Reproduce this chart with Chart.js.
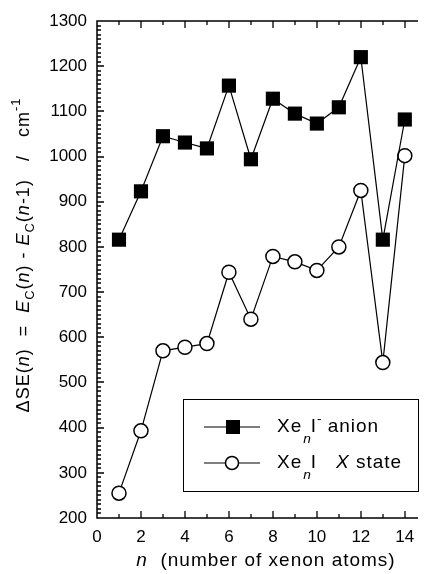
<!DOCTYPE html>
<html>
<head>
<meta charset="utf-8">
<script src="https://cdn.jsdelivr.net/npm/chart.js@4.4.1/dist/chart.umd.min.js"></script>
<style>
  body { margin: 0; background: #fff; }
  canvas { display: block; }
</style>
</head>
<body>
<canvas id="chart" width="428" height="574"></canvas>
<script>
// Cluster size n and stabilisation energy increments (cm-1)
const nValues = [1, 2, 3, 4, 5, 6, 7, 8, 9, 10, 11, 12, 13, 14];
const anionValues = [816, 923, 1045, 1031, 1018, 1157, 994, 1128, 1095, 1073, 1109, 1220, 816, 1082];
const xStateValues = [255, 393, 570, 578, 586, 744, 640, 779, 767, 748, 800, 925, 544, 1002];

// Axis tick labels
const xTicks = [0, 2, 4, 6, 8, 10, 12, 14];
const yTicks = [200, 300, 400, 500, 600, 700, 800, 900, 1000, 1100, 1200, 1300];

const family = '"Liberation Sans", Arial, Helvetica, sans-serif';

// Draw a run of text pieces (italic / subscript / superscript) starting at x
function drawRuns(ctx, runs, x, y, size, measureOnly) {
    let cx = x;
    runs.forEach(function (r) {
        const s = (r.sub || r.sup) ? size * 0.72 : size;
        ctx.font = (r.italic ? 'italic ' : '') + s + 'px ' + family;
        const dy = r.sub ? size * (r.low || 0.38) : (r.sup ? -size * 0.42 : 0);
        if (!measureOnly) ctx.fillText(r.text, cx, y + dy);
        cx += ctx.measureText(r.text).width + (r.gap || 0);
    });
    return cx - x;
}

const yTitleRuns = [
    { text: '\u0394SE(' }, { text: 'n', italic: true }, { text: ')  =  ' },
    { text: 'E', italic: true }, { text: 'C', sub: true }, { text: '(' },
    { text: 'n', italic: true }, { text: ') - ' },
    { text: 'E', italic: true }, { text: 'C', sub: true }, { text: '(' },
    { text: 'n', italic: true }, { text: '-1)   /   cm' }, { text: '-1', sup: true }
];

const xTitleRuns = [
    { text: 'n', italic: true }, { text: '  (number of xenon atoms)' }
];

// Frame, inward ticks, axis titles and the boxed legend
const decorations = {
    id: 'decorations',
    afterDatasetsDraw(chart) {
        const ctx = chart.ctx;
        const area = chart.chartArea;
        const xs = chart.scales.x;
        const ys = chart.scales.y;
        ctx.save();
        ctx.strokeStyle = '#000';
        ctx.fillStyle = '#000';
        ctx.lineWidth = 1.5;

        // frame: left, bottom, top
        ctx.beginPath();
        ctx.moveTo(area.right, area.top);
        ctx.lineTo(area.left, area.top);
        ctx.lineTo(area.left, area.bottom);
        ctx.lineTo(area.right, area.bottom);
        ctx.stroke();

        // x ticks on bottom and top
        ctx.lineWidth = 1.3;
        ctx.beginPath();
        for (let v = 1; v <= 14; v++) {
            const px = Math.round(xs.getPixelForValue(v));
            const len = v % 2 === 0 ? 7 : 4;
            ctx.moveTo(px, area.bottom);
            ctx.lineTo(px, area.bottom - len);
            ctx.moveTo(px, area.top);
            ctx.lineTo(px, area.top + len);
        }
        // y ticks on the left, minor every 10
        for (let v = 210; v < 1300; v += 10) {
            const py = Math.round(ys.getPixelForValue(v));
            const len = v % 100 === 0 ? 7 : 4;
            ctx.moveTo(area.left, py);
            ctx.lineTo(area.left + len, py);
        }
        ctx.stroke();

        ctx.letterSpacing = '1px';

        // y axis title, rotated
        ctx.save();
        ctx.translate(24, 255);
        ctx.rotate(-Math.PI / 2);
        ctx.textBaseline = 'middle';
        ctx.textAlign = 'left';
        const yw = drawRuns(ctx, yTitleRuns, 0, 0, 18, true);
        drawRuns(ctx, yTitleRuns, -yw / 2, 0, 18);
        ctx.restore();

        // x axis title
        ctx.textBaseline = 'alphabetic';
        ctx.textAlign = 'left';
        const xw = drawRuns(ctx, xTitleRuns, 0, 0, 19, true);
        drawRuns(ctx, xTitleRuns, 266 - xw / 2, 566, 19);

        // legend box
        ctx.fillStyle = '#fff';
        ctx.fillRect(183, 399, 235, 92);
        ctx.lineWidth = 1;
        ctx.strokeRect(183.5, 399.5, 235, 92);
        ctx.fillStyle = '#000';

        const rows = [
            { y: 427, square: true, runs: [{ text: 'Xe', gap: 1 }, { text: 'n', italic: true, sub: true, low: 0.62, gap: -1 }, { text: 'I' }, { text: '-', sup: true, gap: 5 }, { text: 'anion' }] },
            { y: 463, square: false, runs: [{ text: 'Xe', gap: 1 }, { text: 'n', italic: true, sub: true, low: 0.62, gap: -1 }, { text: 'I   ' }, { text: 'X', italic: true }, { text: ' state' }] }
        ];
        rows.forEach(function (row) {
            ctx.beginPath();
            ctx.lineWidth = 1.2;
            ctx.moveTo(204, row.y);
            ctx.lineTo(260, row.y);
            ctx.stroke();
            if (row.square) {
                ctx.fillRect(226, row.y - 7, 14, 14);
            } else {
                ctx.beginPath();
                ctx.arc(232, row.y, 6.5, 0, Math.PI * 2);
                ctx.fillStyle = '#fff';
                ctx.fill();
                ctx.lineWidth = 1.5;
                ctx.stroke();
                ctx.fillStyle = '#000';
            }
            ctx.textBaseline = 'middle';
            drawRuns(ctx, row.runs, 277, row.y, 19);
        });

        ctx.restore();
    }
};

const ctx = document.getElementById('chart').getContext('2d');
const myChart = new Chart(ctx, {
    type: 'line',
    data: {
        datasets: [{
            label: 'XenI- anion',
            data: nValues.map(function (n, i) { return { x: n, y: anionValues[i] }; }),
            borderColor: '#000',
            borderWidth: 1.2,
            pointStyle: 'rect',
            pointRadius: 10,
            pointBackgroundColor: '#000',
            pointBorderColor: '#000',
            pointBorderWidth: 0,
            tension: 0
        }, {
            label: 'XenI X state',
            data: nValues.map(function (n, i) { return { x: n, y: xStateValues[i] }; }),
            borderColor: '#000',
            borderWidth: 1.2,
            pointStyle: 'circle',
            pointRadius: 7,
            pointBackgroundColor: '#fff',
            pointBorderColor: '#000',
            pointBorderWidth: 1.5,
            tension: 0
        }]
    },
    options: {
        responsive: false,
        animation: false,
        layout: { padding: { top: 21, right: 0, left: 0, bottom: 0 } },
        scales: {
            x: {
                type: 'linear',
                min: 0,
                max: 14.6,
                grid: { display: false, drawTicks: false },
                border: { display: false },
                afterBuildTicks: function (scale) {
                    scale.ticks = xTicks.map(function (v) { return { value: v }; });
                },
                afterFit: function (scale) { scale.height = 56; },
                ticks: {
                    color: '#000',
                    padding: 9,
                    maxRotation: 0,
                    font: { family: family, size: 17 },
                    callback: function (value) { return String(value); }
                }
            },
            y: {
                min: 200,
                max: 1300,
                grid: { display: false, drawTicks: false },
                border: { display: false },
                afterBuildTicks: function (scale) {
                    scale.ticks = yTicks.map(function (v) { return { value: v }; });
                },
                afterFit: function (scale) { scale.width = 97; },
                ticks: {
                    color: '#000',
                    padding: 10,
                    font: { family: family, size: 17 },
                    callback: function (value) { return String(value); }
                }
            }
        },
        plugins: {
            legend: { display: false },
            tooltip: { enabled: false }
        }
    },
    plugins: [decorations]
});
</script>
</body>
</html>
